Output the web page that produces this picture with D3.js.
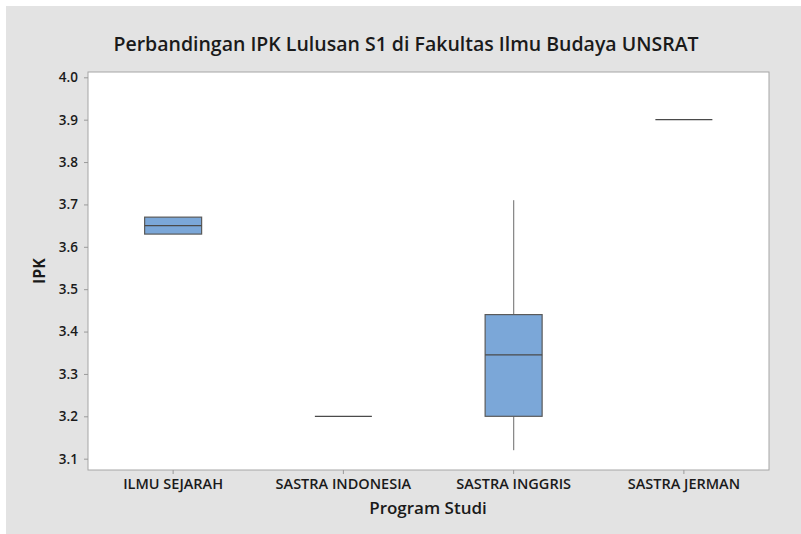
<!DOCTYPE html>
<html lang="en">
<head>
    <meta charset="utf-8">
    <title>Boxplot IPK</title>
    <script src="https://d3js.org/d3.v7.min.js" charset="utf-8"></script>
    <style>
        body { margin: 0; background: #fff; }
        text { font-family: "Open Sans", "Noto Sans", sans-serif; }
    </style>
</head>
<body>
<script>

// data
var categories = ["ILMU SEJARAH", "SASTRA INDONESIA", "SASTRA INGGRIS", "SASTRA JERMAN"]
var minVals    = [3.63, 3.20, 3.12, 3.90]
var q1Vals     = [3.63, 3.20, 3.20, 3.90]
var medVals    = [3.65, 3.20, 3.345, 3.90]
var q3Vals     = [3.67, 3.20, 3.44, 3.90]
var maxVals    = [3.67, 3.20, 3.71, 3.90]
var yTicks     = [3.1, 3.2, 3.3, 3.4, 3.5, 3.6, 3.7, 3.8, 3.9, 4.0]

var w = 801, h = 534
var pLeft = 88, pRight = 769, pTop = 72, pBottom = 470

var svg = d3.select("body").append("svg").attr("width", w).attr("height", h)

svg.append("rect").attr("x", 6).attr("y", 6).attr("width", w - 6).attr("height", h - 6).attr("fill", "#e3e3e3")
svg.append("rect").attr("x", pLeft).attr("y", pTop).attr("width", pRight - pLeft).attr("height", pBottom - pTop)
    .attr("fill", "#fff").attr("stroke", "#a6a6a6").attr("stroke-width", 1)

var x = d3.scaleBand().domain(categories).range([pLeft, pRight])
var y = d3.scaleLinear().domain([3.0733, 4.0125]).range([pBottom, pTop])

var boxes = categories.map(function (c, i) {
    return {cat: c, min: minVals[i], q1: q1Vals[i], med: medVals[i], q3: q3Vals[i], max: maxVals[i]}
})

// axes
var yAxis = svg.append("g").attr("transform", "translate(" + pLeft + ",0)")
    .call(d3.axisLeft(y).tickValues(yTicks).tickFormat(d3.format(".1f")).tickSize(4).tickPadding(6))
var xAxis = svg.append("g").attr("transform", "translate(0," + pBottom + ")")
    .call(d3.axisBottom(x).tickSize(4).tickPadding(5))

;[yAxis, xAxis].forEach(function (a) {
    a.select(".domain").remove()
    a.selectAll(".tick line").attr("stroke", "#9a9a9a")
    a.selectAll(".tick text").attr("fill", "#1a1a1a").attr("font-weight", 600)
        .style("font-family", "'Open Sans', sans-serif")
})
yAxis.selectAll(".tick text").attr("font-size", 13.5)
xAxis.selectAll(".tick text").attr("font-size", 14.5)

// boxes
var bw = 57
var g = svg.append("g")
boxes.forEach(function (d) {
    var cx = x(d.cat) + x.bandwidth() / 2
    if (d.max > d.q3) {
        g.append("line").attr("x1", cx).attr("x2", cx).attr("y1", y(d.q3)).attr("y2", y(d.max))
            .attr("stroke", "#8a8a8a").attr("stroke-width", 1.3)
    }
    if (d.min < d.q1) {
        g.append("line").attr("x1", cx).attr("x2", cx).attr("y1", y(d.q1)).attr("y2", y(d.min))
            .attr("stroke", "#8a8a8a").attr("stroke-width", 1.3)
    }
    g.append("rect").attr("x", cx - bw / 2).attr("width", bw)
        .attr("y", y(d.q3)).attr("height", Math.max(0, y(d.q1) - y(d.q3)))
        .attr("fill", "#7ba7d8").attr("stroke", "#5a5a5a").attr("stroke-width", 1.2)
    g.append("line").attr("x1", cx - bw / 2).attr("x2", cx + bw / 2).attr("y1", y(d.med)).attr("y2", y(d.med))
        .attr("stroke", "#4a4a4a").attr("stroke-width", 1.3)
})

// titles
svg.append("text").attr("x", 406).attr("y", 51).attr("text-anchor", "middle")
    .attr("font-size", 19.5).attr("font-weight", 600).attr("fill", "#1a1a1a")
    .text("Perbandingan IPK Lulusan S1 di Fakultas Ilmu Budaya UNSRAT")
svg.append("text").attr("x", 428).attr("y", 514).attr("text-anchor", "middle")
    .attr("font-size", 17).attr("font-weight", 600).attr("fill", "#1a1a1a")
    .text("Program Studi")
svg.append("text").attr("transform", "translate(45," + ((pTop + pBottom) / 2) + ") rotate(-90)")
    .attr("text-anchor", "middle").attr("font-size", 16).attr("font-weight", 700).attr("fill", "#1a1a1a")
    .text("IPK")

</script>
</body>
</html>
